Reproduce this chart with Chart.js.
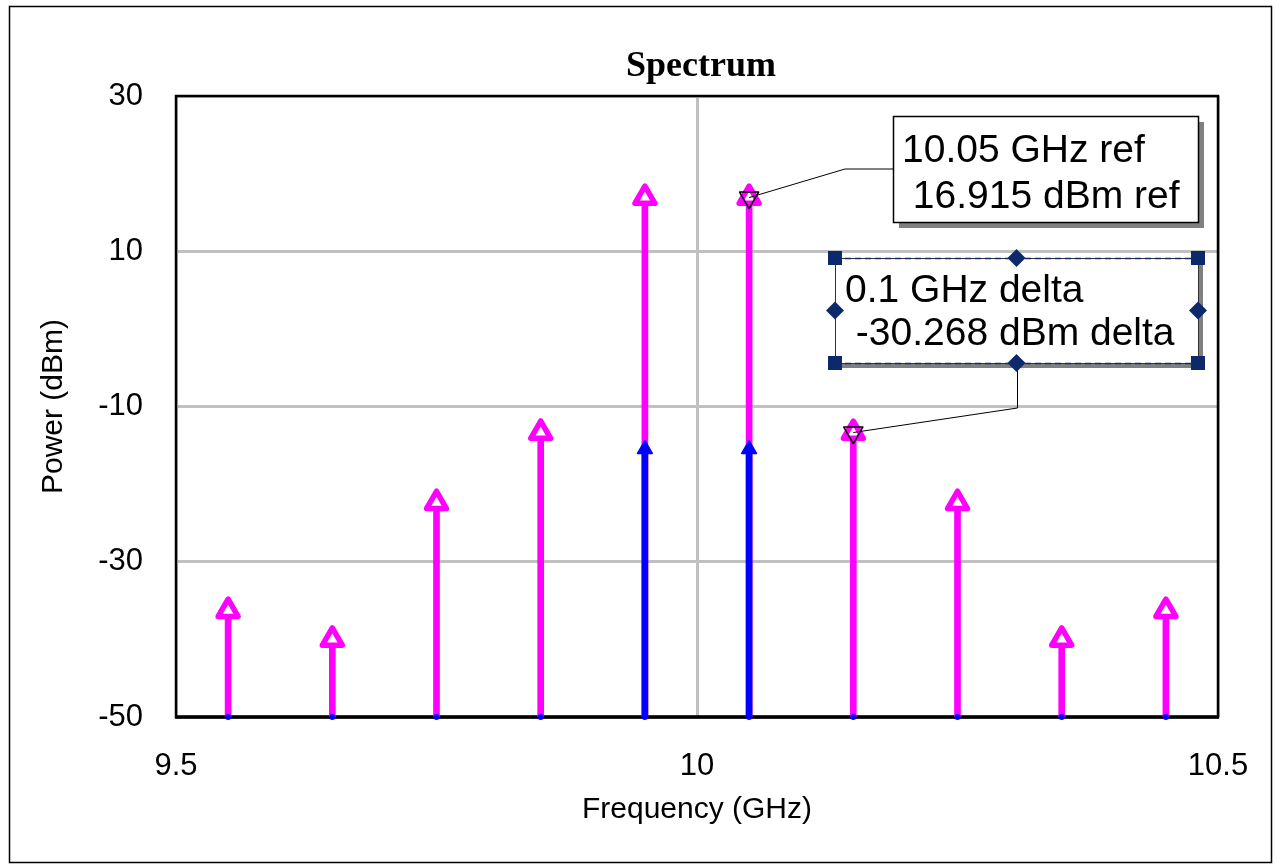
<!DOCTYPE html>
<html><head><meta charset="utf-8">
<script src="https://cdn.jsdelivr.net/npm/chart.js@4"></script>
<style>html,body{margin:0;padding:0;background:#fff}canvas{display:block}</style>
</head><body>
<canvas id="c" width="1282" height="864"></canvas>
<script>
// ---- data ----
const frequencies = [9.55, 9.65, 9.75, 9.85, 9.95, 10.05, 10.15, 10.25, 10.35, 10.45];
const magentaPower = [-36.3, -40.0, -22.4, -13.35, 16.915, 16.915, -13.353, -22.4, -40.0, -36.3];
const bluePower = [-50, -50, -50, -50, -15.5, -15.5, -50, -50, -50, -50];
const markerFreq = [10.05, 10.15];
const markerPower = [16.915, -13.353];
const refLabel = ['10.05 GHz ref', ' 16.915 dBm ref'];
const deltaLabel = ['0.1 GHz delta', ' -30.268 dBm delta'];
const xRange = [9.5, 10.5], xStep = 0.5;
const yRange = [-50, 30], yStep = 20;
const titleText = 'Spectrum';
const xTitle = 'Frequency (GHz)';
const yTitle = 'Power (dBm)';

const MAG = '#ff00ff', BLUE = '#0000ff', NAVY = '#0c2a6b';
const SANS = '"Liberation Sans", Arial, sans-serif';
const yMin = yRange[0];

const decor = {
  id: 'decor',
  beforeDatasetsDraw(chart) {
    const {ctx, chartArea: a} = chart;
    ctx.save();
    ctx.strokeStyle = '#000';
    ctx.lineWidth = 2.5;
    ctx.strokeRect(a.left, a.top, a.right - a.left, a.bottom - a.top);
    ctx.lineWidth = 3.5;
    ctx.beginPath(); ctx.moveTo(a.left - 1, a.bottom); ctx.lineTo(a.right + 1, a.bottom); ctx.stroke();
    ctx.restore();
    ctx.lineJoin = 'round';
  },
  afterDatasetsDraw(chart) {
    chart.ctx.lineJoin = 'miter';
  },
  afterDraw(chart) {
    const {ctx, chartArea: a, scales: {x, y}} = chart;
    ctx.save();
    // outer frame
    ctx.strokeStyle = '#000'; ctx.lineWidth = 1.5;
    ctx.strokeRect(9.5, 6.5, 1262, 856);
    // title
    ctx.fillStyle = '#000';
    ctx.font = 'bold 36px "Liberation Serif", "Times New Roman", serif';
    ctx.textAlign = 'center'; ctx.textBaseline = 'alphabetic';
    ctx.fillText(titleText, (a.left + a.right) / 2 + 4, 76);

    // reference marker annotation
    const m0x = x.getPixelForValue(markerFreq[0]), m0y = y.getPixelForValue(markerPower[0]);
    ctx.strokeStyle = '#000'; ctx.lineWidth = 1;
    ctx.beginPath(); ctx.moveTo(m0x, m0y); ctx.lineTo(845, 169); ctx.lineTo(893, 169); ctx.stroke();
    ctx.fillStyle = '#808080'; ctx.fillRect(899, 122, 305, 106);
    ctx.fillStyle = '#fff'; ctx.fillRect(893, 116, 305, 106);
    ctx.strokeStyle = '#000'; ctx.lineWidth = 1.5; ctx.strokeRect(893.5, 116.5, 305, 106);
    ctx.fillStyle = '#000'; ctx.font = '39px ' + SANS; ctx.textAlign = 'left';
    ctx.fillText(refLabel[0], 902, 162);
    ctx.fillText(refLabel[1], 902, 208);

    // delta marker annotation
    const m1x = x.getPixelForValue(markerFreq[1]), m1y = y.getPixelForValue(markerPower[1]);
    ctx.strokeStyle = '#000'; ctx.lineWidth = 1;
    ctx.beginPath(); ctx.moveTo(1017.5, 363); ctx.lineTo(1017.5, 408); ctx.lineTo(m1x, m1y); ctx.stroke();
    const L = 835, T = 258, R = 1198, B = 363;
    ctx.fillStyle = '#808080'; ctx.fillRect(L + 5, T + 5, R - L, B - T);
    ctx.fillStyle = '#fff'; ctx.fillRect(L, T, R - L, B - T);
    ctx.strokeStyle = '#333'; ctx.lineWidth = 1; ctx.strokeRect(L + 0.5, T + 0.5, R - L, B - T);
    ctx.strokeStyle = NAVY; ctx.setLineDash([6, 4]); ctx.lineWidth = 1.5;
    ctx.beginPath(); ctx.moveTo(L, T + 0.5); ctx.lineTo(R, T + 0.5); ctx.moveTo(L, B + 0.5); ctx.lineTo(R, B + 0.5); ctx.stroke();
    ctx.setLineDash([]);
    ctx.fillStyle = '#000'; ctx.font = '39px ' + SANS;
    ctx.fillText(deltaLabel[0], 845, 302);
    ctx.fillText(deltaLabel[1], 845, 345);
    // handles
    ctx.fillStyle = NAVY;
    [[L, T], [R, T], [L, B], [R, B]].forEach(([px, py]) => ctx.fillRect(px - 7, py - 7, 14, 14));
    const mx = (L + R) / 2, my = (T + B) / 2;
    [[mx, T], [mx, B], [L, my], [R, my]].forEach(([px, py]) => {
      ctx.beginPath(); ctx.moveTo(px, py - 9); ctx.lineTo(px + 9, py); ctx.lineTo(px, py + 9); ctx.lineTo(px - 9, py); ctx.closePath(); ctx.fill();
    });
    ctx.restore();
  }
};

new Chart(document.getElementById('c'), {
  type: 'scatter',
  data: {
    datasets: [
      { type: 'line', showLine: false, order: 0, clip: false,
        data: markerFreq.map((f, i) => ({x: f, y: markerPower[i]})),
        pointStyle: 'triangle', rotation: 180, pointRadius: 11, pointBorderWidth: 1.5,
        pointBorderColor: '#000', pointBackgroundColor: 'rgba(0,0,0,0)' },
      { type: 'line', showLine: false, order: 1, clip: false,
        data: frequencies.map(f => ({x: f, y: yMin})),
        pointStyle: 'circle', pointRadius: 3, pointBorderWidth: 0, pointBackgroundColor: BLUE },
      { type: 'line', showLine: false, order: 2, clip: false,
        data: frequencies.map((f, i) => ({x: f, y: bluePower[i]})),
        pointStyle: 'triangle',
        pointRadius: c => bluePower[c.dataIndex] > yMin ? 8.5 : 0,
        pointBorderWidth: 1.5, pointBorderColor: BLUE, pointBackgroundColor: BLUE },
      { type: 'bar', order: 3, grouped: false, barThickness: 6,
        data: frequencies.map((f, i) => ({x: f, y: [yMin, bluePower[i]]})),
        backgroundColor: BLUE },
      { type: 'line', showLine: false, order: 4, clip: false,
        data: frequencies.map((f, i) => ({x: f, y: magentaPower[i]})),
        pointStyle: 'triangle', pointRadius: 11.5, pointBorderWidth: 5.5,
        pointBorderColor: MAG, pointBackgroundColor: '#fff' },
      { type: 'bar', order: 5, grouped: false, barThickness: 6,
        data: frequencies.map((f, i) => ({x: f, y: [yMin, magentaPower[i]]})),
        backgroundColor: MAG }
    ]
  },
  options: {
    responsive: false, animation: false, devicePixelRatio: 1,
    layout: { padding: { top: 96, right: 64, left: 0, bottom: 0 } },
    plugins: { legend: { display: false }, tooltip: { enabled: false }, title: { display: false } },
    scales: {
      x: {
        type: 'linear', min: xRange[0], max: xRange[1], offset: false,
        afterFit: s => { s.height = 147; },
        grid: { color: '#c0c0c0', lineWidth: 3, drawTicks: false, offset: false },
        border: { display: false },
        ticks: { stepSize: xStep, maxRotation: 0, autoSkip: false, padding: 31, color: '#000',
                 font: { family: SANS, size: 31 }, callback: v => String(Number(v)) },
        title: { display: true, text: xTitle, color: '#000', font: { family: SANS, size: 30 }, padding: { top: 0, bottom: 36 } }
      },
      y: {
        type: 'linear', min: yRange[0], max: yRange[1],
        afterFit: s => { s.width = 176; },
        grid: { color: '#c0c0c0', lineWidth: 3, drawTicks: false },
        border: { display: false },
        ticks: { stepSize: yStep, padding: 33, color: '#000', font: { family: SANS, size: 31 } },
        title: { display: true, text: yTitle, color: '#000', font: { family: SANS, size: 30 }, padding: { top: 36, bottom: 0 } }
      }
    }
  },
  plugins: [decor]
});
</script>
</body></html>
